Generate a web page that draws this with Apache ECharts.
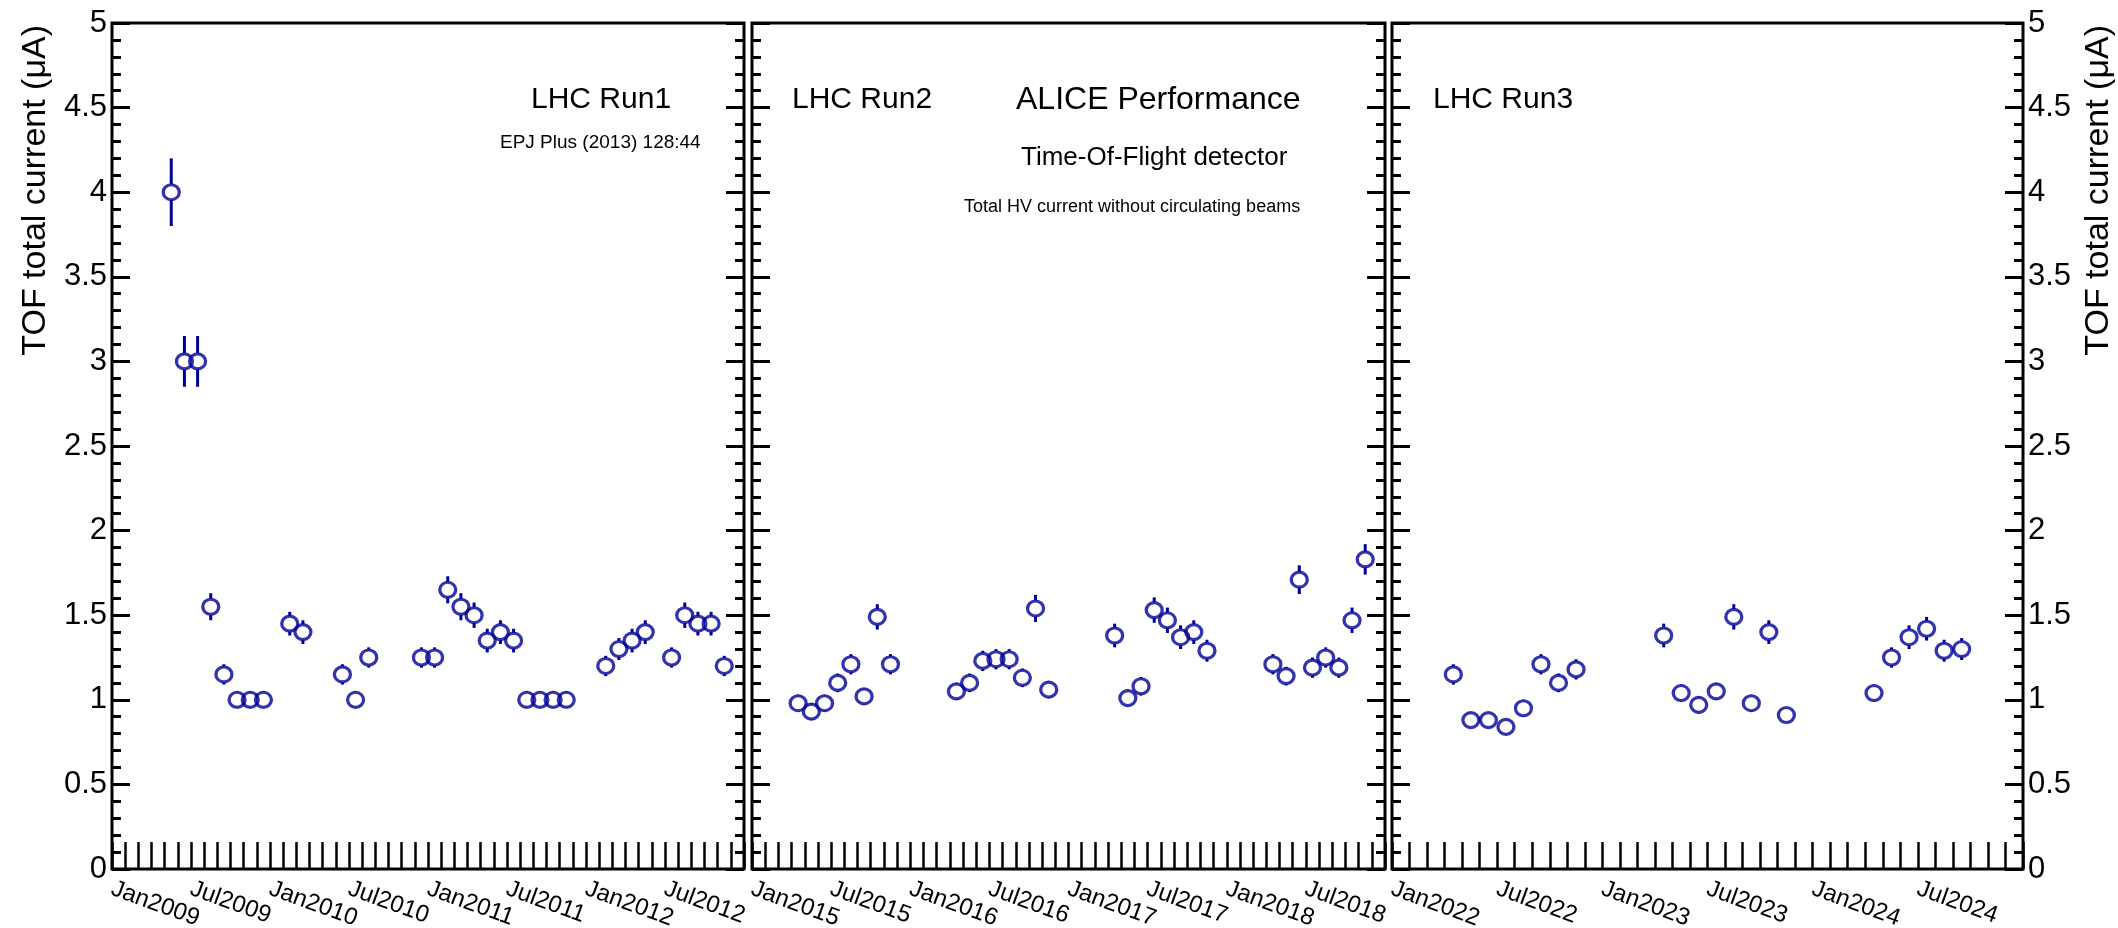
<!DOCTYPE html>
<html>
<head>
<meta charset="utf-8">
<title>TOF total HV current</title>
<script src="https://cdn.jsdelivr.net/npm/echarts@6/dist/echarts.min.js"></script>
<style>
  html, body { margin: 0; padding: 0; background: #fff; }
  #main { width: 2118px; height: 928px; }
</style>
</head>
<body>
<div id="main"></div>
<script>
// --- data ---
const run1Ticks = ["Jan2009", "Jul2009", "Jan2010", "Jul2010", "Jan2011", "Jul2011", "Jan2012", "Jul2012"];
const run1Months = ["2009-05", "2009-06", "2009-07", "2009-08", "2009-09", "2009-10", "2009-11", "2009-12",
  "2010-02", "2010-03", "2010-06", "2010-07", "2010-08", "2010-12",
  "2011-01", "2011-02", "2011-03", "2011-04", "2011-05", "2011-06", "2011-07",
  "2011-08", "2011-09", "2011-10", "2011-11",
  "2012-02", "2012-03", "2012-04", "2012-05", "2012-07", "2012-08", "2012-09", "2012-10", "2012-11"];
const run1Values = [4.0, 3.0, 3.0, 1.55, 1.15, 1.0, 1.0, 1.0,
  1.45, 1.40, 1.15, 1.0, 1.25, 1.25,
  1.25, 1.65, 1.55, 1.50, 1.35, 1.40, 1.35,
  1.0, 1.0, 1.0, 1.0,
  1.20, 1.30, 1.35, 1.40, 1.25, 1.50, 1.45, 1.45, 1.20];
const run1Errors = [0.20, 0.15, 0.15, 0.08, 0.06, 0.05, 0.05, 0.05,
  0.07, 0.07, 0.06, 0.05, 0.06, 0.06,
  0.06, 0.08, 0.08, 0.075, 0.07, 0.07, 0.07,
  0.05, 0.05, 0.05, 0.05,
  0.06, 0.065, 0.07, 0.07, 0.06, 0.075, 0.07, 0.07, 0.06];

const run2Ticks = ["Jan2015", "Jul2015", "Jan2016", "Jul2016", "Jan2017", "Jul2017", "Jan2018", "Jul2018"];
const run2Months = ["2015-04", "2015-05", "2015-06", "2015-07", "2015-08", "2015-09", "2015-10", "2015-11",
  "2016-04", "2016-05", "2016-06", "2016-07", "2016-08", "2016-09", "2016-10", "2016-11",
  "2017-04", "2017-05", "2017-06", "2017-07", "2017-08", "2017-09", "2017-10", "2017-11",
  "2018-04", "2018-05", "2018-06", "2018-07", "2018-08", "2018-09", "2018-10", "2018-11"];
const run2Values = [0.98, 0.93, 0.98, 1.10, 1.21, 1.02, 1.49, 1.21,
  1.05, 1.10, 1.23, 1.24, 1.24, 1.13, 1.54, 1.06,
  1.38, 1.01, 1.08, 1.53, 1.47, 1.37, 1.40, 1.29,
  1.21, 1.14, 1.71, 1.19, 1.25, 1.19, 1.47, 1.83];
const run2Errors = [0.05, 0.05, 0.05, 0.055, 0.06, 0.05, 0.075, 0.06,
  0.05, 0.055, 0.06, 0.06, 0.06, 0.055, 0.08, 0.05,
  0.07, 0.05, 0.055, 0.075, 0.075, 0.07, 0.07, 0.065,
  0.06, 0.055, 0.085, 0.06, 0.06, 0.06, 0.075, 0.09];

const run3Ticks = ["Jan2022", "Jul2022", "Jan2023", "Jul2023", "Jan2024", "Jul2024"];
const run3Months = ["2022-04", "2022-05", "2022-06", "2022-07", "2022-08", "2022-09", "2022-10", "2022-11",
  "2023-04", "2023-05", "2023-06", "2023-07", "2023-08", "2023-09", "2023-10", "2023-11",
  "2024-04", "2024-05", "2024-06", "2024-07", "2024-08", "2024-09"];
const run3Values = [1.15, 0.88, 0.88, 0.84, 0.95, 1.21, 1.10, 1.18,
  1.38, 1.04, 0.97, 1.05, 1.49, 0.98, 1.40, 0.91,
  1.04, 1.25, 1.37, 1.42, 1.29, 1.30];
const run3Errors = [0.06, 0.045, 0.045, 0.04, 0.05, 0.06, 0.055, 0.06,
  0.07, 0.05, 0.05, 0.05, 0.075, 0.05, 0.07, 0.045,
  0.05, 0.06, 0.07, 0.07, 0.065, 0.065];

const yTitle = "TOF total current (\u03bcA)";

// --- layout / style ---
const FONT = '"Liberation Sans", Arial, Helvetica, sans-serif';
const MARK = "#000099";
const panels = [
  { start: 2009, span: 48, ticks: run1Ticks, months: run1Months, values: run1Values, errors: run1Errors, left: 112, width: 632 },
  { start: 2015, span: 48, ticks: run2Ticks, months: run2Months, values: run2Values, errors: run2Errors, left: 752, width: 633 },
  { start: 2022, span: 36, ticks: run3Ticks, months: run3Months, values: run3Values, errors: run3Errors, left: 1392, width: 631 },
];
const TOP = 23, HEIGHT = 846;

function monthPos(str, startYear) {
  const [y, m] = str.split("-").map(Number);
  return (y - startYear) * 12 + (m - 1) + 0.5;
}

const chart = echarts.init(document.getElementById("main"), null, { renderer: "canvas" });

const grids = [], xAxes = [], yAxes = [], series = [];

panels.forEach((p, i) => {
  grids.push({
    left: p.left, top: TOP, width: p.width, height: HEIGHT,
    show: true, borderColor: "#000", borderWidth: 3, backgroundColor: "transparent",
    containLabel: false, outerBoundsMode: "none",
  });

  xAxes.push({
    type: "value", gridIndex: i, min: 0, max: p.span, interval: 6,
    axisLine: { show: false },
    splitLine: { show: false },
    axisTick: { show: true, inside: true, length: 27, lineStyle: { color: "#000", width: 2.5 } },
    minorTick: { show: true, splitNumber: 6, length: 27, lineStyle: { color: "#000", width: 2.5 } },
    axisLabel: {
      show: true, rotate: -20, margin: 19, color: "#000", fontSize: 24, fontFamily: FONT,
      showMinLabel: true, showMaxLabel: true, hideOverlap: false,
      formatter: (v) => p.ticks[Math.round(v / 6)] || "",
    },
  });

  ["left", "right"].forEach((pos) => {
    const withLabels = (i === 0 && pos === "left") || (i === 2 && pos === "right");
    yAxes.push({
      type: "value", gridIndex: i, position: pos, min: 0, max: 5, interval: 0.5,
      axisLine: { show: false },
      splitLine: { show: false },
      axisTick: { show: true, inside: true, length: 18, lineStyle: { color: "#000", width: 3 } },
      minorTick: { show: true, splitNumber: 5, length: 9, lineStyle: { color: "#000", width: 3 } },
      axisLabel: { show: withLabels, margin: 5, color: "#000", fontSize: 31, fontFamily: FONT },
    });
  });

  const pts = p.months.map((m, k) => [monthPos(m, p.start), p.values[k], p.errors[k]]);

  // error bars, drawn only outside the open marker
  series.push({
    type: "custom", xAxisIndex: i, yAxisIndex: 2 * i, silent: true,
    data: pts,
    renderItem: (params, api) => {
      const x = api.value(0), y = api.value(1), e = api.value(2);
      const c = api.coord([x, y]);
      const hi = api.coord([x, y + e]);
      const lo = api.coord([x, y - e]);
      const gap = 8;
      const style = { stroke: MARK, lineWidth: 3 };
      const children = [];
      if (c[1] - gap > hi[1]) {
        children.push({ type: "line", shape: { x1: c[0], y1: hi[1], x2: c[0], y2: c[1] - gap }, style });
      }
      if (lo[1] > c[1] + gap) {
        children.push({ type: "line", shape: { x1: c[0], y1: c[1] + gap, x2: c[0], y2: lo[1] }, style });
      }
      return { type: "group", children };
    },
    z: 3,
  });

  series.push({
    type: "scatter", xAxisIndex: i, yAxisIndex: 2 * i, silent: true,
    data: pts.map((d) => [d[0], d[1]]),
    symbol: "circle", symbolSize: [16, 15],
    itemStyle: { color: "rgba(0,0,0,0)", borderColor: MARK, borderWidth: 3.2 },
    z: 4,
  });
});

function label(text, x, y, size) {
  return {
    type: "text", x, y, silent: true,
    style: {
      text, fill: "#000", font: size + "px " + FONT,
      align: "left", verticalAlign: "middle", textAlign: "left", textVerticalAlign: "middle",
    },
  };
}

const graphics = [
  label("LHC Run1", 531, 100, 30),
  label("EPJ Plus (2013) 128:44", 500, 143, 19),
  label("LHC Run2", 792, 100, 30),
  label("ALICE Performance", 1016, 100, 32),
  label("Time-Of-Flight detector", 1021, 158, 26),
  label("Total HV current without circulating beams", 964, 207, 18),
  label("LHC Run3", 1433, 100, 30),
];
[36, 2099].forEach((x) => {
  graphics.push({
    type: "text", x, y: TOP + 2, rotation: Math.PI / 2, silent: true,
    style: {
      text: yTitle, fill: "#000", font: "34px " + FONT,
      align: "right", verticalAlign: "middle", textAlign: "right", textVerticalAlign: "middle",
    },
  });
});

chart.setOption({
  animation: false,
  backgroundColor: "#fff",
  grid: grids,
  xAxis: xAxes,
  yAxis: yAxes,
  series,
  graphic: graphics,
});
</script>
</body>
</html>
